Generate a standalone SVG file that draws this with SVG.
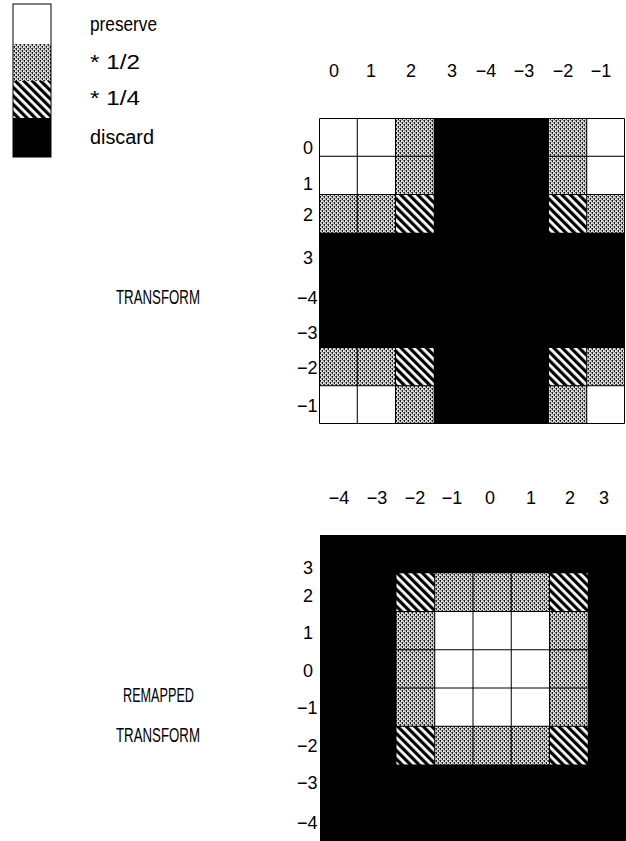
<svg xmlns="http://www.w3.org/2000/svg" width="626" height="841" viewBox="0 0 626 841">
<defs>
<pattern id="gray" width="4" height="4" patternUnits="userSpaceOnUse">
<rect width="4" height="4" fill="#c8c8c8"/>
<rect x="0" y="0" width="1" height="2" fill="#222"/>
<rect x="2" y="2" width="1" height="2" fill="#222"/>
<rect x="1" y="1" width="1" height="1" fill="#fff"/>
<rect x="3" y="3" width="1" height="1" fill="#fff"/>
<rect x="3" y="0" width="1" height="1" fill="#666"/>
<rect x="1" y="2" width="1" height="1" fill="#888"/>
</pattern>
<pattern id="hatch" width="6" height="6" patternUnits="userSpaceOnUse" patternTransform="rotate(-45)">
<rect width="6" height="6" fill="#fff"/>
<rect x="0" y="0" width="3.2" height="6" fill="#000"/>
</pattern>
<style>
text{font-family:"Liberation Sans",Arial,sans-serif;font-size:18px;fill:#000}
.lbl{font-size:20px}
.w{fill:#fff}
.g{fill:url(#gray)}
.h{fill:url(#hatch)}
.k{fill:#000}
.ln{stroke:#000;stroke-width:1;fill:none}
.c{text-anchor:middle}
</style>
</defs>
<rect width="626" height="841" fill="#fff"/>

<g id="legend">
<rect class="w" x="13" y="4" width="38" height="40"/>
<rect class="g" x="13" y="44" width="38" height="37"/>
<rect class="h" x="13" y="81" width="38" height="37"/>
<rect class="k" x="13" y="118" width="38" height="39"/>
<rect class="ln" x="13" y="4" width="38" height="153"/>
<text class="lbl" x="90" y="31" textLength="67" lengthAdjust="spacingAndGlyphs">preserve</text>
<text class="lbl" x="90" y="69" textLength="50" lengthAdjust="spacingAndGlyphs">* 1/2</text>
<text class="lbl" x="90" y="105" textLength="50" lengthAdjust="spacingAndGlyphs">* 1/4</text>
<text class="lbl" x="90" y="144" textLength="64" lengthAdjust="spacingAndGlyphs">discard</text>
</g>

<g id="transform">
<text class="lbl" x="116" y="304" textLength="84" lengthAdjust="spacingAndGlyphs">TRANSFORM</text>
<g id="top-col-labels">
<text class="c" x="334" y="77">0</text>
<text class="c" x="371" y="77">1</text>
<text class="c" x="411" y="77">2</text>
<text class="c" x="452" y="77">3</text>
<text class="c" x="486" y="77">−4</text>
<text class="c" x="524" y="77">−3</text>
<text class="c" x="563" y="77">−2</text>
<text class="c" x="601" y="77">−1</text>
</g>
<g id="top-row-labels">
<text x="303" y="154">0</text>
<text x="303" y="190">1</text>
<text x="303" y="221">2</text>
<text x="303" y="264">3</text>
<text x="297" y="304">−4</text>
<text x="297" y="339">−3</text>
<text x="297" y="374">−2</text>
<text x="297" y="412">−1</text>
</g>
<g id="top-grid">
<rect class="k" x="319" y="118" width="306" height="306"/>
<rect class="w" x="319" y="118" width="38.25" height="38.25"/>
<rect class="w" x="357.25" y="118" width="38.25" height="38.25"/>
<rect class="g" x="395.5" y="118" width="38.25" height="38.25"/>
<rect class="g" x="548.5" y="118" width="38.25" height="38.25"/>
<rect class="w" x="586.75" y="118" width="38.25" height="38.25"/>
<rect class="w" x="319" y="156.25" width="38.25" height="38.25"/>
<rect class="w" x="357.25" y="156.25" width="38.25" height="38.25"/>
<rect class="g" x="395.5" y="156.25" width="38.25" height="38.25"/>
<rect class="g" x="548.5" y="156.25" width="38.25" height="38.25"/>
<rect class="w" x="586.75" y="156.25" width="38.25" height="38.25"/>
<rect class="g" x="319" y="194.5" width="38.25" height="38.25"/>
<rect class="g" x="357.25" y="194.5" width="38.25" height="38.25"/>
<rect class="h" x="395.5" y="194.5" width="38.25" height="38.25"/>
<rect class="h" x="548.5" y="194.5" width="38.25" height="38.25"/>
<rect class="g" x="586.75" y="194.5" width="38.25" height="38.25"/>
<rect class="g" x="319" y="347.5" width="38.25" height="38.25"/>
<rect class="g" x="357.25" y="347.5" width="38.25" height="38.25"/>
<rect class="h" x="395.5" y="347.5" width="38.25" height="38.25"/>
<rect class="h" x="548.5" y="347.5" width="38.25" height="38.25"/>
<rect class="g" x="586.75" y="347.5" width="38.25" height="38.25"/>
<rect class="w" x="319" y="385.75" width="38.25" height="38.25"/>
<rect class="w" x="357.25" y="385.75" width="38.25" height="38.25"/>
<rect class="g" x="395.5" y="385.75" width="38.25" height="38.25"/>
<rect class="g" x="548.5" y="385.75" width="38.25" height="38.25"/>
<rect class="w" x="586.75" y="385.75" width="38.25" height="38.25"/>
<path class="ln" d="M319.5 118.5H624.5V423.5H319.5Z M357.25 118V232.75 M357.25 347.5V424 M395.5 118V232.75 M395.5 347.5V424 M586.75 118V232.75 M586.75 347.5V424 M548.5 118V232.75 M548.5 347.5V424 M319 156.25H433.75 M548.5 156.25H625 M319 194.5H433.75 M548.5 194.5H625 M319 385.75H433.75 M548.5 385.75H625 M319 347.5H433.75 M548.5 347.5H625"/>
</g>
</g>

<g id="remapped">
<text class="lbl" x="123" y="702" textLength="71" lengthAdjust="spacingAndGlyphs">REMAPPED</text>
<text class="lbl" x="116" y="742" textLength="84" lengthAdjust="spacingAndGlyphs">TRANSFORM</text>
<g id="bottom-col-labels">
<text class="c" x="339" y="504">−4</text>
<text class="c" x="377" y="504">−3</text>
<text class="c" x="415" y="504">−2</text>
<text class="c" x="452" y="504">−1</text>
<text class="c" x="490" y="504">0</text>
<text class="c" x="531" y="504">1</text>
<text class="c" x="570" y="504">2</text>
<text class="c" x="604" y="504">3</text>
</g>
<g id="bottom-row-labels">
<text x="303" y="574">3</text>
<text x="303" y="602">2</text>
<text x="303" y="639">1</text>
<text x="303" y="677">0</text>
<text x="297" y="714">−1</text>
<text x="297" y="752">−2</text>
<text x="297" y="789">−3</text>
<text x="297" y="829">−4</text>
</g>
<g id="bottom-grid">
<rect class="k" x="320" y="535" width="306" height="306"/>
<rect class="h" x="396.5" y="573.25" width="38.25" height="38.25"/>
<rect class="g" x="434.75" y="573.25" width="38.25" height="38.25"/>
<rect class="g" x="473" y="573.25" width="38.25" height="38.25"/>
<rect class="g" x="511.25" y="573.25" width="38.25" height="38.25"/>
<rect class="h" x="549.5" y="573.25" width="38.25" height="38.25"/>
<rect class="g" x="396.5" y="611.5" width="38.25" height="38.25"/>
<rect class="g" x="396.5" y="649.75" width="38.25" height="38.25"/>
<rect class="g" x="396.5" y="688" width="38.25" height="38.25"/>
<rect class="g" x="549.5" y="611.5" width="38.25" height="38.25"/>
<rect class="g" x="549.5" y="649.75" width="38.25" height="38.25"/>
<rect class="g" x="549.5" y="688" width="38.25" height="38.25"/>
<rect class="w" x="434.75" y="611.5" width="114.75" height="114.75"/>
<rect class="h" x="396.5" y="726.25" width="38.25" height="38.25"/>
<rect class="g" x="434.75" y="726.25" width="38.25" height="38.25"/>
<rect class="g" x="473" y="726.25" width="38.25" height="38.25"/>
<rect class="g" x="511.25" y="726.25" width="38.25" height="38.25"/>
<rect class="h" x="549.5" y="726.25" width="38.25" height="38.25"/>
<path class="ln" d="M434.75 573.25V764.5 M473 573.25V764.5 M511.25 573.25V764.5 M549.5 573.25V764.5 M396.5 611.5H587.75 M396.5 649.75H587.75 M396.5 688H587.75 M396.5 726.25H587.75"/>
</g>
</g>
</svg>
